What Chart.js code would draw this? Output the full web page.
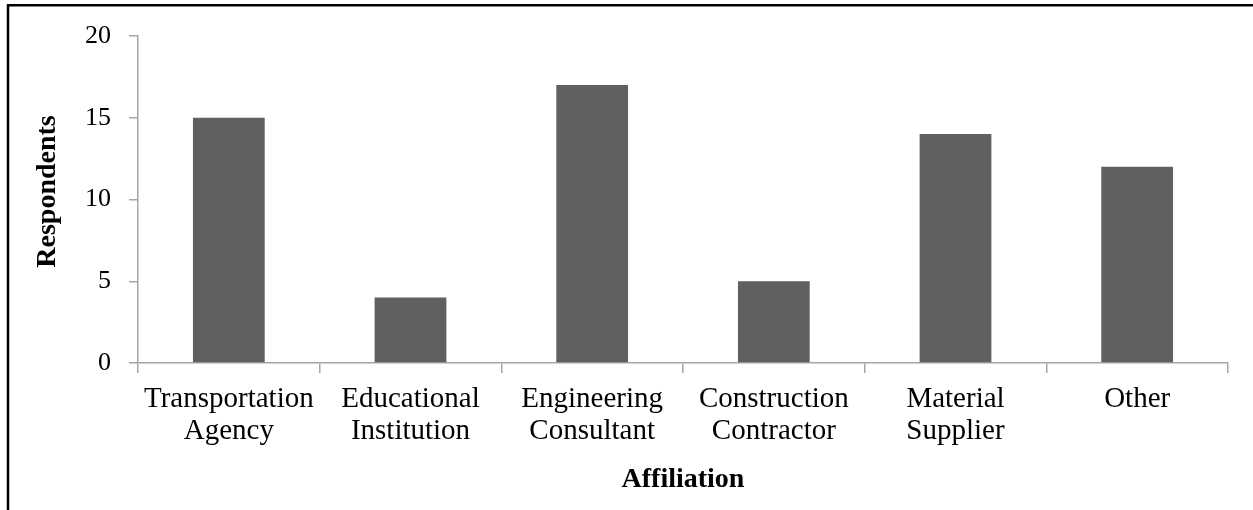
<!DOCTYPE html>
<html>
<head>
<meta charset="utf-8">
<script src="https://cdn.jsdelivr.net/npm/chart.js@4"></script>
<style>
html,body{margin:0;padding:0;background:#fff;}
#wrap{width:1253px;height:510px;position:relative;}
</style>
</head>
<body>
<div id="wrap"><canvas id="c" width="1253" height="510"></canvas></div>
<script>
const categories = [
  ["Transportation", "Agency"],
  ["Educational", "Institution"],
  ["Engineering", "Consultant"],
  ["Construction", "Contractor"],
  ["Material", "Supplier"],
  ["Other"]
];
const respondents = [15, 4, 17, 5, 14, 12];
const yTicks = [0, 5, 10, 15, 20];
const xTitle = "Affiliation";
const yTitle = "Respondents";

const axisColor = '#a6a6a6';
const serif = "'Liberation Serif', 'Times New Roman', serif";

const framePlugin = {
  id: 'frame',
  afterDraw(chart) {
    const ctx = chart.ctx;
    const area = chart.chartArea;
    ctx.save();
    ctx.strokeStyle = '#000';
    ctx.lineWidth = 2.5;
    ctx.strokeRect(8, 5.25, 1400, 700);
    // y axis title
    ctx.translate(48, (area.top + area.bottom) / 2 - 8);
    ctx.rotate(-Math.PI / 2);
    ctx.fillStyle = '#000';
    ctx.font = "bold 28px " + serif;
    ctx.textAlign = 'center';
    ctx.textBaseline = 'middle';
    ctx.fillText(yTitle, 0, 0);
    ctx.restore();
  }
};

new Chart(document.getElementById('c'), {
  type: 'bar',
  data: {
    labels: categories,
    datasets: [{
      data: respondents,
      backgroundColor: '#606060',
      borderWidth: 0,
      barPercentage: 0.395,
      categoryPercentage: 1
    }]
  },
  options: {
    responsive: false,
    animation: false,
    devicePixelRatio: 1,
    layout: { padding: { left: 0, top: 36, right: 25, bottom: 0 } },
    plugins: { legend: { display: false }, tooltip: { enabled: false } },
    scales: {
      x: {
        afterFit(s) { s.height = 147; },
        border: { color: axisColor, width: 1.5 },
        grid: { display: true, drawOnChartArea: false, drawTicks: true, tickLength: 10, color: axisColor, lineWidth: 1.5, offset: true },
        ticks: { color: '#000', font: { family: serif, size: 29, lineHeight: 1.12 }, padding: 10, maxRotation: 0, autoSkip: false },
        title: { display: true, text: xTitle, color: '#000', font: { family: serif, size: 28, weight: 'bold' }, padding: { top: 0, bottom: 13 } }
      },
      y: {
        min: 0, max: 20,
        afterFit(s) { s.width = 138; },
        afterBuildTicks(s) { s.ticks = yTicks.map(v => ({ value: v })); },
        border: { color: axisColor, width: 1.5 },
        grid: { display: true, drawOnChartArea: false, drawTicks: true, tickLength: 9, color: axisColor, lineWidth: 1.5 },
        ticks: { color: '#000', font: { family: serif, size: 26 }, padding: 18 },
        title: { display: false }
      }
    }
  },
  plugins: [framePlugin]
});
</script>
</body>
</html>
